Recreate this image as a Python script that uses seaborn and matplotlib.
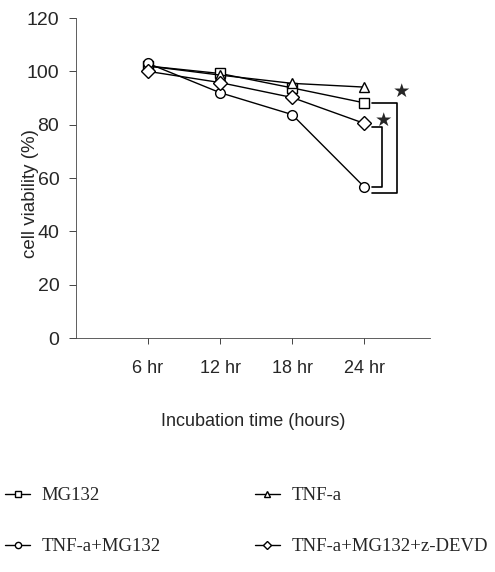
import pandas as pd
import matplotlib.pyplot as plt
import seaborn as sns
from matplotlib.lines import Line2D

# Data
hours = [6, 12, 18, 24]
hour_labels = ['6 hr', '12 hr', '18 hr', '24 hr']
mg132 = [102, 99.2, 93.8, 88.2]
tnfa = [102, 98.6, 95.5, 94.1]
tnfa_mg132 = [103, 92, 83.8, 56.7]
tnfa_mg132_zdevd = [100, 95.8, 90.2, 80.5]

series = {
    'MG132': mg132,
    'TNF-a': tnfa,
    'TNF-a+MG132': tnfa_mg132,
    'TNF-a+MG132+z-DEVD': tnfa_mg132_zdevd,
}
marker_map = {
    'MG132': 's',
    'TNF-a': '^',
    'TNF-a+MG132': 'o',
    'TNF-a+MG132+z-DEVD': 'D',
}

rows = []
for name, vals in series.items():
    for h, v in zip(hours, vals):
        rows.append({'hours': h, 'viability': v, 'group': name})
df = pd.DataFrame(rows)

sns.set_style('white')
plt.rcParams['font.family'] = ['Liberation Sans', 'DejaVu Sans']

fig = plt.figure(figsize=(4.95, 5.72), dpi=100)
ax = fig.add_axes([0.1535, 0.409, 0.7155, 0.5595])

sns.lineplot(
    data=df, x='hours', y='viability', hue='group', style='group',
    palette=['black'] * 4, markers=marker_map, dashes=False,
    markersize=7, markerfacecolor='white', markeredgecolor='black',
    markeredgewidth=1.0, linewidth=1.0, legend=False, ax=ax,
)

ax.set_xlim(0, 29.5)
ax.set_ylim(0, 120)
ax.set_yticks(range(0, 121, 20))
ax.set_xticks(hours)
ax.set_xticklabels(hour_labels)
ax.tick_params(axis='y', labelsize=14, length=5, width=0.6, direction='out', left=True, pad=7)
ax.tick_params(axis='x', labelsize=13, length=4, width=0.6, direction='out', bottom=True, pad=12)
ax.set_xlabel('Incubation time (hours)', fontsize=13)
ax.set_ylabel('cell viability (%)', fontsize=13.5)
ax.xaxis.set_label_coords(0.5, -0.235)
ax.yaxis.set_label_coords(-0.105, 0.45)
for side in ['top', 'right']:
    ax.spines[side].set_visible(False)
for side in ['left', 'bottom']:
    ax.spines[side].set_linewidth(0.6)
    ax.spines[side].set_color('#444444')

# Significance brackets
ax.plot([24.67, 26.75, 26.75, 24.67], [mg132[-1], mg132[-1], 54.4, 54.4], color='black', lw=1.2)
ax.plot([24.67, 25.5, 25.5, 24.67], [tnfa_mg132_zdevd[-1] - 1.5, tnfa_mg132_zdevd[-1] - 1.5, tnfa_mg132[-1], tnfa_mg132[-1]], color='black', lw=1.2)
ax.text(27.1, 92.5, '★', fontsize=14, family='DejaVu Sans', ha='center', va='center')
ax.text(25.6, 81.5, '★', fontsize=14, family='DejaVu Sans', ha='center', va='center')

handles = []
labels = []
for name in ['MG132', 'TNF-a+MG132', 'TNF-a', 'TNF-a+MG132+z-DEVD']:
    handles.append(Line2D([], [], color='black', lw=1.0, marker=marker_map[name],
                          markersize=4.5, markerfacecolor='white', markeredgecolor='black'))
    labels.append(name)

fig.legend(handles, labels, ncol=2, frameon=False, loc='upper left',
           bbox_to_anchor=(0.01, 0.148), prop={'family': 'Liberation Serif', 'size': 13.5},
           borderaxespad=0, borderpad=0,
           handlelength=1.35, handletextpad=0.62, columnspacing=5.0, labelspacing=1.8)

fig.savefig('out.png', dpi=100)
